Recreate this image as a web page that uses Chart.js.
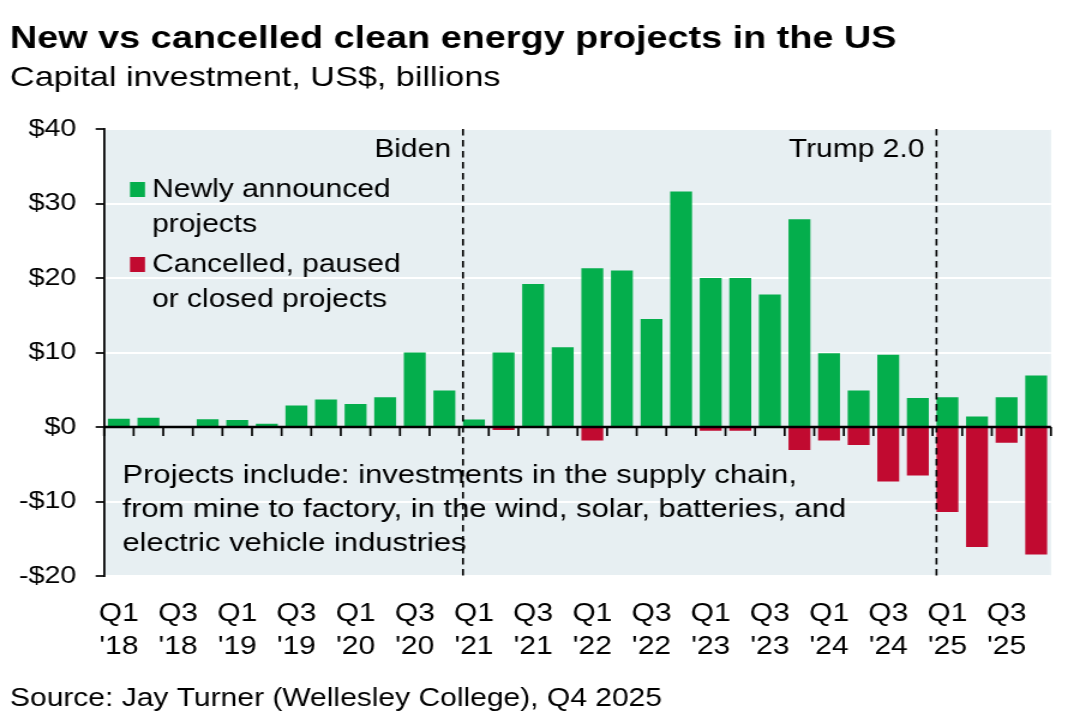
<!DOCTYPE html>
<html>
<head>
<meta charset="utf-8">
<script src="https://cdn.jsdelivr.net/npm/chart.js@4.4.1/dist/chart.umd.min.js"></script>
<style>
  html, body { margin: 0; padding: 0; background: #fff; overflow: hidden; }
  /* the source picture is stretched sideways, so draw narrower and widen */
  #wrap { width: 896px; height: 726px; transform: scaleX(1.2); transform-origin: 0 0; }
</style>
</head>
<body>
<div id="wrap"><canvas id="chart"></canvas></div>
<script>
const categories = [
  "Q1 '18", "Q2 '18", "Q3 '18", "Q4 '18",
  "Q1 '19", "Q2 '19", "Q3 '19", "Q4 '19",
  "Q1 '20", "Q2 '20", "Q3 '20", "Q4 '20",
  "Q1 '21", "Q2 '21", "Q3 '21", "Q4 '21",
  "Q1 '22", "Q2 '22", "Q3 '22", "Q4 '22",
  "Q1 '23", "Q2 '23", "Q3 '23", "Q4 '23",
  "Q1 '24", "Q2 '24", "Q3 '24", "Q4 '24",
  "Q1 '25", "Q2 '25", "Q3 '25", "Q4 '25"
];

// US$ billions
const newProjects = [
  1.1, 1.25, 0, 1.05,
  0.95, 0.45, 2.9, 3.7,
  3.1, 4.0, 10.0, 4.9,
  1.0, 10.0, 19.2, 10.7,
  21.3, 21.0, 14.5, 31.6,
  20.0, 20.0, 17.8, 27.9,
  9.9, 4.9, 9.7, 3.9,
  4.0, 1.4, 4.0, 6.9
];

const cancelledProjects = [
  0, 0, 0, 0,
  0, 0, 0, 0,
  0, 0, 0, 0,
  0, -0.4, 0, 0,
  -1.8, 0, 0, 0,
  -0.5, -0.5, 0, -3.1,
  -1.8, -2.4, -7.3, -6.5,
  -11.4, -16.1, -2.1, -17.1
];

const yTicks = [-20, -10, 0, 10, 20, 30, 40];

const eraStarts = ["Q1 '21", "Q1 '25"];
const eraLabels = ["Biden", "Trump 2.0"];

const legendLines = [
  ["Newly announced", "projects"],
  ["Cancelled, paused", "or closed projects"]
];

const noteLines = [
  "Projects include: investments in the supply chain,",
  "from mine to factory, in the wind, solar, batteries, and",
  "electric vehicle industries"
];

const sourceText = "Source: Jay Turner (Wellesley College), Q4 2025";

const GREEN = "#04ae4c";
const RED = "#c10a30";
const PLOT_BG = "#e7eff2";
const FONT = "'Liberation Sans', Arial, Helvetica, sans-serif";
const BAR_PCT = 0.74;

Chart.defaults.font.family = FONT;
Chart.defaults.color = "#000";

function money(v) {
  return (v < 0 ? "-$" : "$") + Math.abs(v);
}

const plotBackground = {
  id: "plotBackground",
  beforeDraw(chart) {
    const { ctx, chartArea: a } = chart;
    ctx.save();
    ctx.fillStyle = PLOT_BG;
    ctx.fillRect(a.left, a.top, a.right - a.left, a.bottom - a.top);
    ctx.restore();
  }
};

const overlay = {
  id: "overlay",
  afterDatasetsDraw(chart) {
    const { ctx, chartArea: a, scales } = chart;
    const x = scales.x;
    const y = scales.y;
    const step = (a.right - a.left) / categories.length;
    const y0 = y.getPixelForValue(0);

    ctx.save();

    // zero line with quarter ticks
    ctx.strokeStyle = "#000";
    ctx.lineWidth = 2.5;
    ctx.beginPath();
    ctx.moveTo(a.left, y0);
    ctx.lineTo(a.right, y0);
    ctx.stroke();
    ctx.lineWidth = 1.7;
    for (let i = 0; i <= categories.length; i++) {
      const px = x.getPixelForValue(Math.min(i, categories.length - 1)) + (i === categories.length ? step / 2 : -step / 2);
      ctx.beginPath();
      ctx.moveTo(px, y0);
      ctx.lineTo(px, y0 + 9);
      ctx.stroke();
    }

    // era dividers
    ctx.lineWidth = 1.6;
    ctx.setLineDash([6.5, 4.5]);
    ctx.font = "25px " + FONT;
    ctx.fillStyle = "#000";
    ctx.textAlign = "right";
    ctx.textBaseline = "alphabetic";
    eraStarts.forEach((c, k) => {
      const px = x.getPixelForValue(categories.indexOf(c)) - step * BAR_PCT / 2;
      ctx.beginPath();
      ctx.moveTo(px, a.top);
      ctx.lineTo(px, a.bottom);
      ctx.stroke();
      ctx.fillText(eraLabels[k], px - 10, a.top + 28);
    });
    ctx.setLineDash([]);

    // legend
    const colors = [GREEN, RED];
    const legendTop = [182, 257];
    ctx.textAlign = "left";
    legendLines.forEach((lines, k) => {
      ctx.fillStyle = colors[k];
      ctx.fillRect(108.3, legendTop[k], 12.5, 15);
      ctx.fillStyle = "#000";
      lines.forEach((t, j) => ctx.fillText(t, 126.7, legendTop[k] + 15 + j * 35));
    });

    // note
    ctx.font = "25.8px " + FONT;
    noteLines.forEach((t, j) => ctx.fillText(t, 102, 483 + j * 34));

    ctx.restore();
  },
  afterDraw(chart) {
    const { ctx } = chart;
    ctx.save();
    ctx.font = "25px " + FONT;
    ctx.fillStyle = "#000";
    ctx.textAlign = "left";
    ctx.fillText(sourceText, 8.3, 706);
    ctx.restore();
  }
};

new Chart(document.getElementById("chart"), {
  type: "bar",
  data: {
    labels: categories,
    datasets: [
      {
        label: "Newly announced projects",
        data: newProjects,
        backgroundColor: GREEN,
        barPercentage: BAR_PCT,
        categoryPercentage: 1.0
      },
      {
        label: "Cancelled, paused or closed projects",
        data: cancelledProjects,
        backgroundColor: RED,
        barPercentage: BAR_PCT,
        categoryPercentage: 1.0
      }
    ]
  },
  options: {
    responsive: true,
    maintainAspectRatio: false,
    animation: false,
    layout: { padding: { left: 8.3, right: 20.2, top: 0, bottom: 0 } },
    plugins: {
      legend: { display: false },
      tooltip: { enabled: false },
      title: {
        display: true,
        text: "New vs cancelled clean energy projects in the US",
        align: "start",
        color: "#000",
        font: { size: 31.5, weight: "bold" },
        padding: { top: 20, bottom: 3 }
      },
      subtitle: {
        display: true,
        text: "Capital investment, US$, billions",
        align: "start",
        color: "#000",
        font: { size: 28.5 },
        padding: { top: 0, bottom: 34 }
      }
    },
    scales: {
      x: {
        stacked: true,
        grid: { display: false, drawTicks: false },
        border: { display: false },
        ticks: {
          autoSkip: false,
          maxRotation: 0,
          padding: 22,
          color: "#000",
          font: { size: 25, lineHeight: 1.3 },
          callback: (v, i) => {
            const [q, yr] = categories[i].split(" ");
            return q === "Q1" || q === "Q3" ? [q, yr] : "";
          }
        },
        afterFit: (s) => { s.height = 150; }
      },
      y: {
        stacked: true,
        min: yTicks[0],
        max: yTicks[yTicks.length - 1],
        afterBuildTicks: (s) => { s.ticks = yTicks.map((v) => ({ value: v })); },
        ticks: {
          padding: 16,
          color: "#000",
          font: { size: 24 },
          callback: (v) => money(v)
        },
        grid: { color: "#fff", lineWidth: 2, tickColor: "#000", tickLength: 7, tickWidth: 1.7 },
        border: { display: true, color: "#000", width: 1.8 },
        afterFit: (s) => { s.width = 78.4; }
      }
    }
  },
  plugins: [plotBackground, overlay]
});
</script>
</body>
</html>
